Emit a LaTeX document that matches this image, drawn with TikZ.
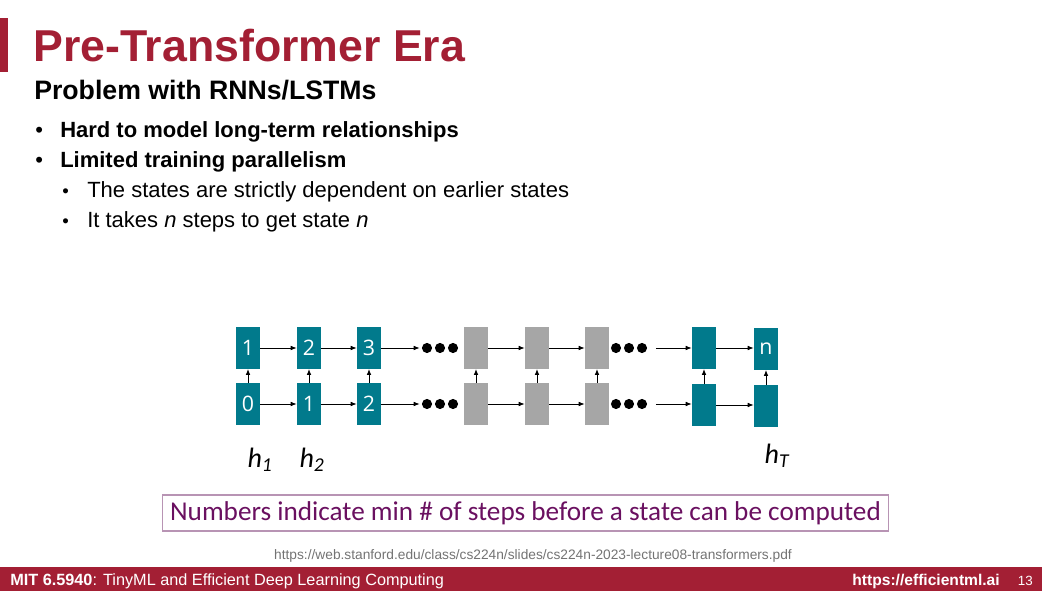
\documentclass[tikz,border=0pt]{standalone}
\usepackage{fontspec}
\setmainfont{Liberation Sans}
\newfontfamily\carlito{Carlito}
\newfontfamily\opensans{Open Sans}
\usetikzlibrary{arrows.meta}

\definecolor{mitred}{HTML}{A31F34}
\definecolor{rnnteal}{HTML}{017A8C}
\definecolor{rnngray}{HTML}{A6A6A6}
\definecolor{notepurple}{HTML}{6A1060}
\definecolor{noteframe}{HTML}{B894B4}

\tikzset{
  cell/.style={minimum width=18pt, minimum height=31pt, inner sep=0pt,
    text=white, font=\opensans\fontsize{16}{16}\selectfont},
  tealcell/.style={cell, fill=rnnteal},
  graycell/.style={cell, fill=rnngray},
  dotsbox/.style={minimum width=30pt, minimum height=8pt, inner sep=0pt},
  flow/.style={-{Latex[length=4.5pt,width=3.5pt]}, line width=0.7pt},
  hlabel/.style={font=\carlito\itshape\fontsize{21}{21}\selectfont, anchor=base},
  bodytext/.style={anchor=base west, inner sep=0pt, font=\fontsize{16.5}{16.5}\selectfont},
}

\begin{document}
\begin{tikzpicture}[x=0.75pt,y=-0.75pt]
\useasboundingbox (0,0) rectangle (1042,591);

% slide header
\fill[mitred] (0,18) rectangle (8,72);
\node[anchor=base west, inner sep=0pt, text=mitred, font=\bfseries\fontsize{33.5}{33.5}\selectfont] (title) at (33,62) {Pre-Transformer Era};
\node[anchor=base west, inner sep=0pt, font=\bfseries\fontsize{20}{20}\selectfont] (subtitle) at (34,100) {Problem with RNNs/LSTMs};

% bullets
\node[bodytext] (b1dot) at (35,138) {•};
\node[bodytext, font=\bfseries\fontsize{16.5}{16.5}\selectfont] (bul1) at (60,138) {Hard to model long-term relationships};
\node[bodytext] (b2dot) at (35,168) {•};
\node[bodytext, font=\bfseries\fontsize{16.5}{16.5}\selectfont] (bul2) at (60,168) {Limited training parallelism};
\node[bodytext, font=\fontsize{14}{14}\selectfont] (s1dot) at (62,198) {•};
\node[bodytext] (sub1) at (87,198) {The states are strictly dependent on earlier states};
\node[bodytext, font=\fontsize{14}{14}\selectfont] (s2dot) at (62,228) {•};
\node[bodytext] (sub2) at (87,228) {It takes \textit{n} steps to get state \textit{n}};

% top row
\node[tealcell] (t1) at (248,348) {1};
\node[tealcell] (t2) at (309,348) {2};
\node[tealcell] (t3) at (369,348) {3};
\node[dotsbox] (d1) at (440,348) {};
\node[graycell] (t4) at (476,348) {};
\node[graycell] (t5) at (537,348) {};
\node[graycell] (t6) at (597,348) {};
\node[dotsbox] (d3) at (629,348) {};
\node[tealcell] (t7) at (704,348) {};
\node[tealcell] (t8) at (766,349) {n};

% bottom row
\node[tealcell] (b1) at (248,404) {0};
\node[tealcell] (b2) at (309,404) {1};
\node[tealcell] (b3) at (369,404) {2};
\node[dotsbox] (d2) at (440,404) {};
\node[graycell] (b4) at (476,404) {};
\node[graycell] (b5) at (537,404) {};
\node[graycell] (b6) at (597,404) {};
\node[dotsbox] (d4) at (629,404) {};
\node[tealcell] (b7) at (704,405) {};
\node[tealcell] (b8) at (766,406) {};

% dots
\foreach \d in {d1,d2,d3,d4}
  \foreach \dx in {-13,0,13}
    \fill ([xshift=\dx*0.75pt]\d.center) circle (3.8pt);

% recurrences
\draw[flow] (t1) -- (t2);
\draw[flow] (t2) -- (t3);
\draw[flow] (t3) -- (d1.west);
\draw[flow] (t4) -- (t5);
\draw[flow] (t5) -- (t6);
\draw[flow] ([xshift=5pt]d3.east) -- (t7);
\draw[flow] (t7.east) -- (t7.east -| t8.west);
\draw[flow] (b1) -- (b2);
\draw[flow] (b2) -- (b3);
\draw[flow] (b3) -- (d2.west);
\draw[flow] (b4) -- (b5);
\draw[flow] (b5) -- (b6);
\draw[flow] ([xshift=5pt]d4.east) -- (d4.east -| b7.west);
\draw[flow] (b7.east) -- (b7.east -| b8.west);
\foreach \i in {1,...,8}
  \draw[flow] (b\i) -- (t\i);

% hidden state labels
\node[hlabel] (h1) at (260,467) {h\textsubscript{1}};
\node[hlabel] (h2) at (312,467) {h\textsubscript{2}};
\node[hlabel] (hT) at (777,463) {h\textsubscript{T}};

% note
\node[draw=noteframe, line width=0.8pt, minimum width=545pt, minimum height=27pt, inner sep=0pt,
  text=notepurple, font=\carlito\fontsize{20.4}{20.4}\selectfont] (note) at (525.5,513) {Numbers indicate min \# of steps before a state can be computed};
\node[text=black!55, font=\fontsize{10.3}{10.3}\selectfont, inner sep=0pt] (src) at (533,556) {https://web.stanford.edu/class/cs224n/slides/cs224n-2023-lecture08-transformers.pdf};

% footer
\fill[mitred] (0,567) rectangle (1042,591);
\node[anchor=base west, inner sep=0pt, text=white, font=\fontsize{12.2}{12.2}\selectfont] (course) at (10,585) {\textbf{MIT 6.5940}: TinyML and Efficient Deep Learning Computing};
\node[anchor=base east, inner sep=0pt, text=white, font=\bfseries\fontsize{11.7}{11.7}\selectfont] (site) at (1000,585) {https://efficientml.ai};
\node[anchor=base east, inner sep=0pt, text=white, font=\fontsize{10}{10}\selectfont] (page) at (1033,585) {13};
\end{tikzpicture}
\end{document}
